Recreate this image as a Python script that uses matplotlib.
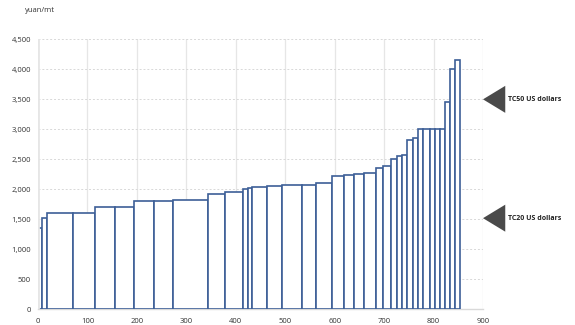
import numpy as np
import matplotlib
matplotlib.use("Agg")
import matplotlib.pyplot as plt
from matplotlib.patches import Polygon
from matplotlib.ticker import FuncFormatter

# Capacity of each smelter block (kt) and its cost (yuan/mt)
widths = [9, 10, 51, 45, 40, 40, 39, 40, 70, 35, 35, 10, 9, 31, 30, 39, 30, 31, 25, 20,
          20, 24, 15, 15, 13, 11, 10, 11, 10, 11, 13, 10, 11, 10, 10, 10, 11]
costs = [1350, 1520, 1600, 1600, 1700, 1710, 1800, 1800, 1820, 1920, 1950, 2010, 2030, 2040,
         2060, 2070, 2070, 2100, 2220, 2240, 2260, 2280, 2350, 2390, 2500, 2550, 2580, 2830,
         2850, 3000, 3000, 3000, 3000, 3000, 3450, 4000, 4150]

# Markers on the right side
marker_levels = [3500, 1520]
marker_labels = ["TC50 US dollars", "TC20 US dollars"]

x_ticks = list(range(0, 901, 100))
y_ticks = list(range(0, 4501, 500))

plt.rcParams['font.family'] = ['Open Sans', 'DejaVu Sans']

fig = plt.figure(figsize=(5.75, 3.25), dpi=100)
ax = fig.add_axes([0.066, 0.048, 0.774, 0.831])

lefts = np.concatenate([[0], np.cumsum(widths)[:-1]])
ax.bar(lefts, costs, width=widths, align='edge', color='white',
       edgecolor='#3d5f97', linewidth=1.2, zorder=3)

ax.set_xlim(0, 900)
ax.set_ylim(0, 4500)
ax.set_xticks(x_ticks)
ax.set_yticks(y_ticks)
ax.yaxis.set_major_formatter(FuncFormatter(lambda v, p: f"{int(v):,}"))
ax.tick_params(axis='both', length=0, labelsize=5.5, colors='#333333', pad=5)
ax.tick_params(axis='x', pad=6)

ax.grid(axis='x', color='#e6e6e6', linewidth=0.9, zorder=0)
ax.grid(axis='y', color='#d8d8d8', linewidth=0.7, linestyle=(0, (2, 2)), zorder=0)
# light axis line at x=0 sits over the first bar's left edge
ax.axvline(0, color='#e6e6e6', linewidth=2.0, zorder=4)
for s in ['top', 'left', 'right']:
    ax.spines[s].set_visible(False)
ax.spines['bottom'].set_color('#d9d9d9')
ax.spines['bottom'].set_linewidth(1.0)

fig.text(0.043, 0.968, "yuan/mt", fontsize=5.5, color='#333333', va='center')

# left-pointing triangles with labels
for lvl, lab in zip(marker_levels, marker_labels):
    tri = Polygon([[900, lvl], [945, lvl + 225], [945, lvl - 225]], closed=True,
                  facecolor='#4a4a4a', edgecolor='none', clip_on=False, zorder=4)
    ax.add_patch(tri)
    ax.text(951, lvl, lab, fontsize=5, fontweight='bold', color='#222222',
            va='center', ha='left', clip_on=False)

fig.savefig("out.png", dpi=100)
